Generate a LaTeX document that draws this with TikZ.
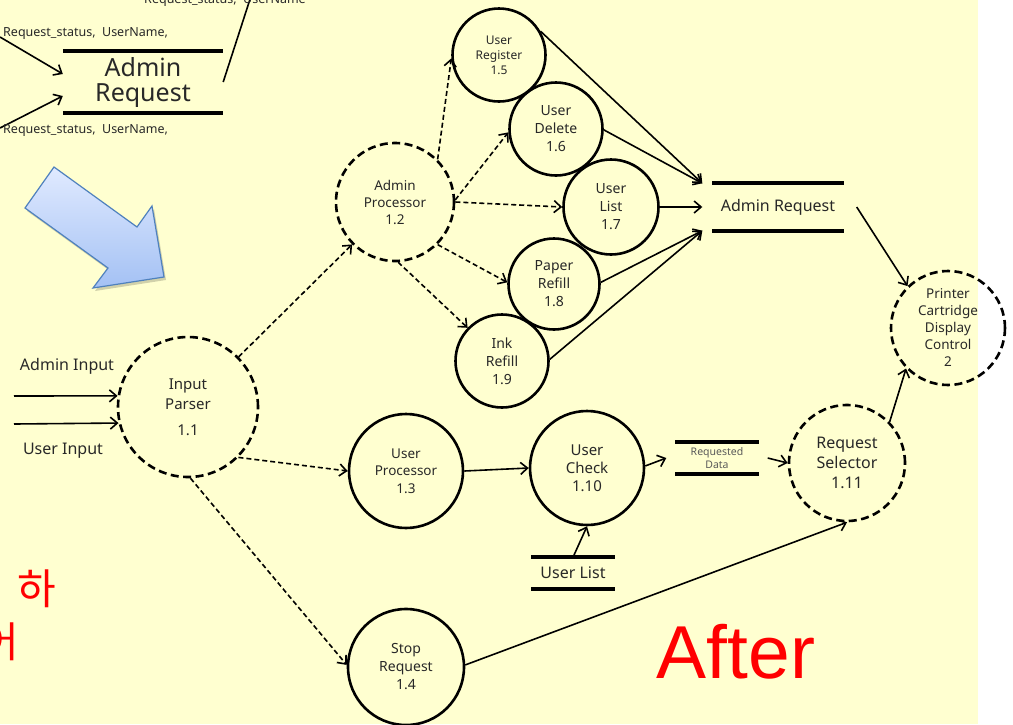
\documentclass[tikz,border=0pt]{standalone}
\usepackage{fontspec}
\setmainfont{Noto Sans}
\newfontfamily\kofont{Noto Sans CJK KR}
\newfontfamily\afterfont{Liberation Sans}
\usetikzlibrary{arrows.meta}
\usetikzlibrary{shadings}

\definecolor{paper}{RGB}{255,255,208}
\definecolor{txt}{RGB}{40,40,40}
\definecolor{arrowhi}{RGB}{224,234,255}
\definecolor{arrowlo}{RGB}{164,193,244}
\definecolor{arrowrim}{RGB}{79,129,189}
\newcommand{\fsz}[2]{\fontsize{#1}{#2}\selectfont}

\begin{document}
\begin{tikzpicture}[x=1pt,y=-1pt,
    proc/.style={circle,draw,line width=2.6pt,inner sep=0pt,align=center,text=txt},
    dproc/.style={proc,dash pattern=on 8pt off 4.5pt},
    flow/.style={line width=1.6pt,-{Straight Barb[length=7pt,width=12pt]}},
    dflow/.style={flow,dash pattern=on 5pt off 3pt},
    store/.style={inner sep=0pt,align=center,text=txt},
    storeline/.style={line width=4pt},
    lbl/.style={text=txt,inner sep=0pt}]
    % background
    \fill[paper] (0,0) rectangle (978,724);
    \fill[white] (978,0) rectangle (1013,724);
    \useasboundingbox (0,0) rectangle (1013,724);

    % old store, top left
    \node[store,minimum width=160pt,minimum height=61pt,font={\fsz{25}{25}}] (tar) at (143,82) {Admin\\Request};
    \coordinate (tin1) at (0,37);
    \coordinate (tin2) at (0,128);
    \coordinate (tout) at (253,-10);
    \draw[flow] (tin1) -- ([yshift=8pt]tar.west);
    \draw[flow] (tin2) -- ([yshift=-14pt]tar.west);
    \draw[line width=1.6pt] (tar.east) -- (tout);
    \node[lbl,anchor=west,font={\fsz{12.5}{15}}] (st1) at (3,34) {Request\_status,\ \ UserName,};
    \node[lbl,anchor=west,font={\fsz{12.5}{15}}] (st2) at (3,131) {Request\_status,\ \ UserName,};
    \node[lbl,anchor=base,font={\fsz{12.5}{15}}] (st0) at (225,3) {Request\_status,\ \ UserName};

    % big arrow
    \fill[black,opacity=0.18,xshift=2pt,yshift=-3pt] (54,167) -- (137,227) -- (152,206) -- (164,277) -- (93,288) -- (108,268) -- (25,208) -- cycle;
    \shade[top color=arrowhi,bottom color=arrowlo,draw=arrowrim,line width=1.2pt]
        (54,167) -- (137,227) -- (152,206) -- (164,277) -- (93,288) -- (108,268) -- (25,208) -- cycle;

    % processes
    \node[dproc,minimum size=140pt,font={\fsz{15}{20}}] (ip) at (188,407) {Input\\Parser\\[6pt]1.1};
    \node[dproc,minimum size=118pt,font={\fsz{13.5}{17}}] (ap) at (395,202) {Admin\\Processor\\1.2};
    \node[proc,minimum size=93pt,font={\fsz{12}{15}}] (reg) at (499,55) {User\\Register\\1.5};
    \node[proc,minimum size=93pt,font={\fsz{14}{18}}] (del) at (556,129) {User\\Delete\\1.6};
    \node[proc,minimum size=95pt,font={\fsz{14}{18}}] (lst) at (611,207) {User\\List\\1.7};
    \node[proc,minimum size=91pt,font={\fsz{14}{18}}] (pap) at (554,284) {Paper\\Refill\\1.8};
    \node[proc,minimum size=93pt,font={\fsz{14}{18}}] (ink) at (502,361) {Ink\\Refill\\1.9};
    \node[proc,minimum size=114pt,font={\fsz{13.5}{17.5}}] (up) at (406,471) {User\\Processor\\1.3};
    \node[proc,minimum size=114pt,font={\fsz{15}{18}}] (uc) at (587,468) {User\\Check\\1.10};
    \node[proc,minimum size=116pt,font={\fsz{14}{18}}] (stop) at (406,667) {Stop\\Request\\1.4};
    \node[dproc,minimum size=116pt,font={\fsz{16}{20}}] (rs) at (847,463) {Request\\Selector\\1.11};
    \node[dproc,minimum size=114pt,font={\fsz{13.5}{17}}] (pc) at (948,328) {Printer\\Cartridge\\Display\\Control\\2};

    % stores
    \node[store,minimum width=131pt,minimum height=47pt,font={\fsz{16}{20}}] (ar) at (778,207) {Admin Request};
    \node[store,minimum width=83pt,minimum height=31pt,font={\fsz{10.5}{13}},text=black!65] (rd) at (717,458) {Requested\\Data};
    \node[store,minimum width=83pt,minimum height=31pt,font={\fsz{16}{20}}] (ul) at (573,573) {User List};
    \foreach \s in {ar,rd,ul,tar}
        \draw[storeline] (\s.north west) -- (\s.north east) (\s.south west) -- (\s.south east);

    % inputs
    \coordinate (ain) at (14,396);
    \coordinate (uin) at (14,424);
    \draw[flow] (ain) -- (ip.171);
    \draw[flow] (uin) -- (ip.193);
    \node[lbl,font={\fsz{16}{20}}] (ainl) at (67,366) {Admin Input};
    \node[lbl,font={\fsz{16}{20}}] (uinl) at (63,451) {User Input};

    % dashed flows
    \draw[dflow] (ip) -- (ap);
    \draw[dflow] (ip.-45) -- (up.180);
    \draw[dflow] (ip.-88) -- (stop.178);
    \draw[dflow] (ap.45) -- (reg.184);
    \draw[dflow] (ap.2) -- (del.184);
    \draw[dflow] (ap.0) -- (lst.180);
    \draw[dflow] (ap.-45) -- (pap.178);
    \draw[dflow] (ap.-87) -- (ink.136);

    % into and out of admin request
    \coordinate (arT) at ([xshift=-10pt]ar.north west);
    \coordinate (arM) at ([xshift=-10pt]ar.west);
    \coordinate (arB) at ([xshift=-10pt]ar.south west);
    \coordinate (arO) at ([xshift=13pt]ar.east);
    \draw[flow] (reg.30) -- (arT);
    \draw[flow] (del.-1) -- (arT);
    \draw[flow] (lst.0) -- (arM);
    \draw[flow] (pap.2) -- (arB);
    \draw[flow] (ink.2) -- (arB);
    \draw[flow] (arO) -- (pc.134);

    % user side
    \coordinate (rdin) at ([xshift=-9pt]rd.west);
    \coordinate (rdout) at ([xshift=9pt]rd.east);
    \draw[flow] (up.0) -- (uc.180);
    \draw[flow] (uc.2) -- (rdin);
    \draw[flow] (rdout) -- (rs.180);
    \draw[flow] (ul.north) -- (uc.-90);
    \draw[flow] (stop.2) -- (rs.-90);
    \draw[flow] (rs.44) -- (pc.224);

    % red notes
    \node[text=red,inner sep=0pt,font={\kofont\fsz{42}{42}}] (ha) at (37,589) {하};
    \node[text=red,inner sep=0pt,anchor=east,font={\kofont\fsz{42}{42}}] (eo) at (19,642) {어};
    \node[text=red,inner sep=0pt,anchor=base,font={\afterfont\fsz{75}{75}}] (after) at (736,678) {After};
\end{tikzpicture}
\end{document}
